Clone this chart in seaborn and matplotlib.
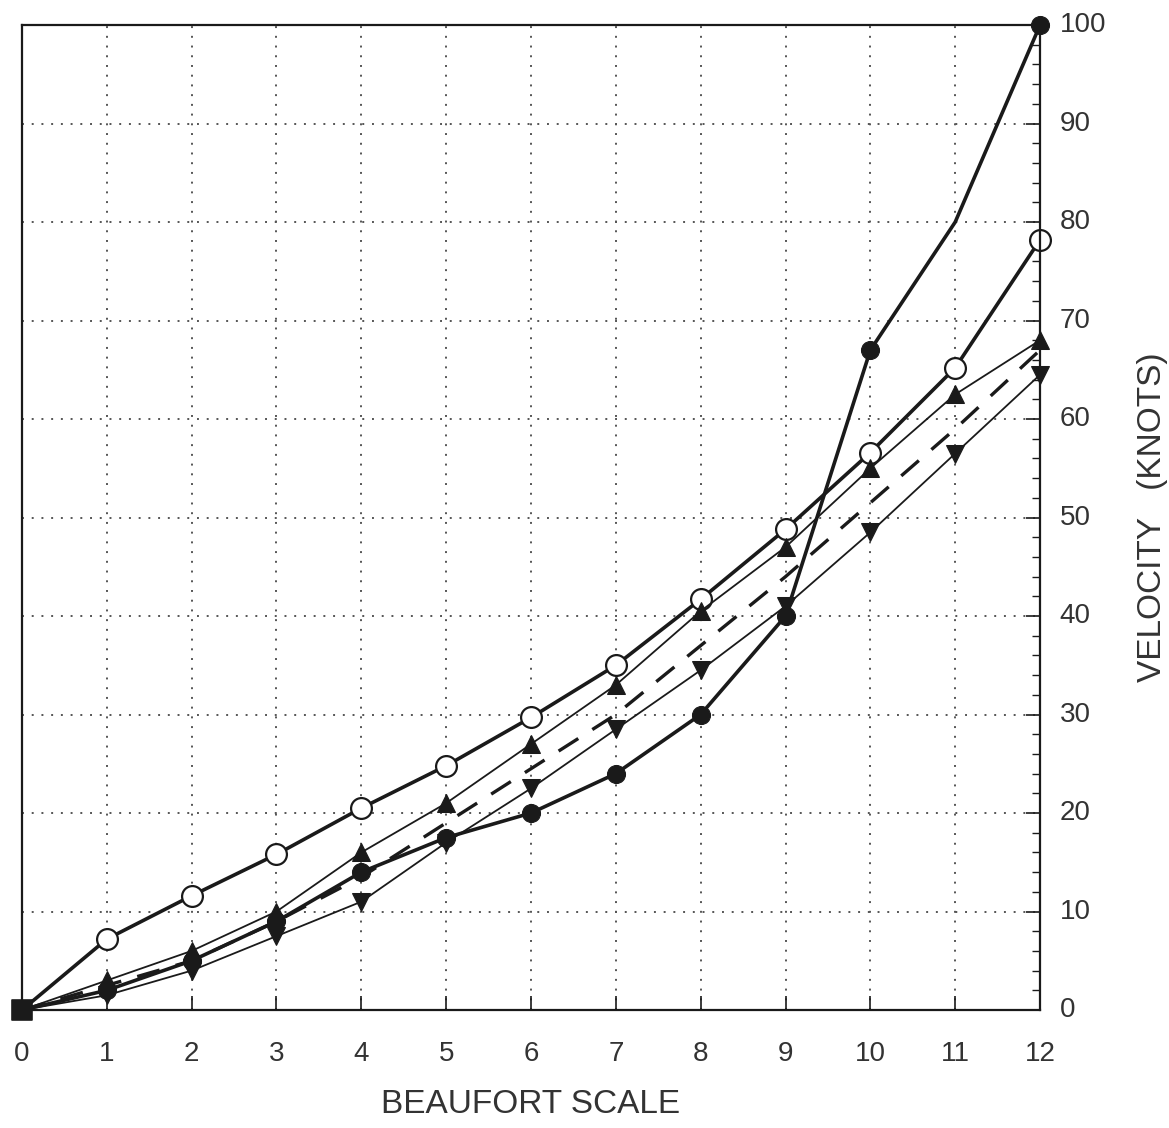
import matplotlib
matplotlib.use("Agg")
import matplotlib.pyplot as plt
import seaborn as sns
import numpy as np

beaufort = list(range(13))
filled_circle = [0, 2, 5, 9, 14, 17.5, 20, 24, 30, 40, 67, 80, 100]
open_circle = [0, 7.2, 11.6, 15.8, 20.5, 24.8, 29.7, 35, 41.7, 48.8, 56.6, 65.2, 78.2]
up_triangle = [0, 3, 6, 10, 16, 21, 27, 33, 40.5, 47, 55, 62.5, 68]
down_triangle = [0, 1.5, 4, 7.5, 11, 17, 22.5, 28.5, 34.5, 41, 48.5, 56.5, 64.5]
dashed_mean = [0, 2.5, 5, 9, 13.5, 19, 24.5, 30, 37, 44, 51.5, 59, 67]
x_ticks = list(range(13))
y_ticks = list(range(0, 101, 10))

sns.set_style("white")
plt.rcParams['font.family'] = ['Liberation Sans', 'DejaVu Sans']

fig = plt.figure(figsize=(11.69, 11.28), dpi=100)
ax = fig.add_axes([0.0188, 0.1046, 0.8709, 0.8732])

ink = "#1a1a1a"
idx_fc = [i for i in range(13) if i not in (0, 11)]
sns.lineplot(x=beaufort, y=filled_circle, ax=ax, color=ink, lw=2.6,
             marker="o", markersize=13, markevery=idx_fc, markeredgecolor=ink,
             clip_on=False)
sns.lineplot(x=beaufort, y=open_circle, ax=ax, color=ink, lw=2.6,
             marker="o", markersize=15, markevery=list(range(1, 13)),
             markerfacecolor="white", markeredgecolor=ink, markeredgewidth=1.6,
             clip_on=False)
sns.lineplot(x=beaufort, y=up_triangle, ax=ax, color=ink, lw=1.3,
             marker="^", markersize=13, markevery=list(range(1, 13)), markeredgecolor=ink,
             clip_on=False)
sns.lineplot(x=beaufort, y=down_triangle, ax=ax, color=ink, lw=1.3,
             marker="v", markersize=13, markevery=list(range(1, 13)), markeredgecolor=ink,
             clip_on=False)
sns.lineplot(x=beaufort, y=dashed_mean, ax=ax, color=ink, lw=2.4,
             linestyle=(0, (7, 5)))
sns.scatterplot(x=beaufort[:1], y=filled_circle[:1], ax=ax, color=ink, marker="s",
                s=220, edgecolor=ink, zorder=5, clip_on=False)

ax.set_xlim(0, 12)
ax.set_ylim(0, 100)
ax.set_xticks(x_ticks)
ax.set_xticklabels([str(v) for v in x_ticks])
ax.set_yticks(y_ticks)
ax.set_yticks(np.arange(0, 101, 2), minor=True)
ax.yaxis.tick_right()
ax.yaxis.set_label_position("right")
ax.tick_params(axis="x", direction="in", length=10, width=1.2, colors=ink,
               labelcolor="#333333", labelsize=20, pad=22, top=False, bottom=True)
ax.tick_params(axis="y", which="major", direction="in", length=10, width=1.2,
               colors=ink, labelcolor="#333333", labelsize=20, pad=14,
               left=False, right=True)
ax.tick_params(axis="y", which="minor", direction="in", length=6, width=1.0,
               colors=ink, left=False, right=True)
for lbl in ax.get_yticklabels():
    lbl.set_verticalalignment("center")

ax.grid(True, which="major", linestyle=(0, (1, 4)), color="#555555", lw=1.4)
for s in ax.spines.values():
    s.set_color(ink)
    s.set_linewidth(1.6)

ax.set_xlabel("BEAUFORT SCALE", fontsize=24, color="#333333", labelpad=16)
ax.set_ylabel("VELOCITY   (KNOTS)", fontsize=24, color="#333333", labelpad=22,
              rotation=90)

fig.savefig("out.png", dpi=100, facecolor="white")
